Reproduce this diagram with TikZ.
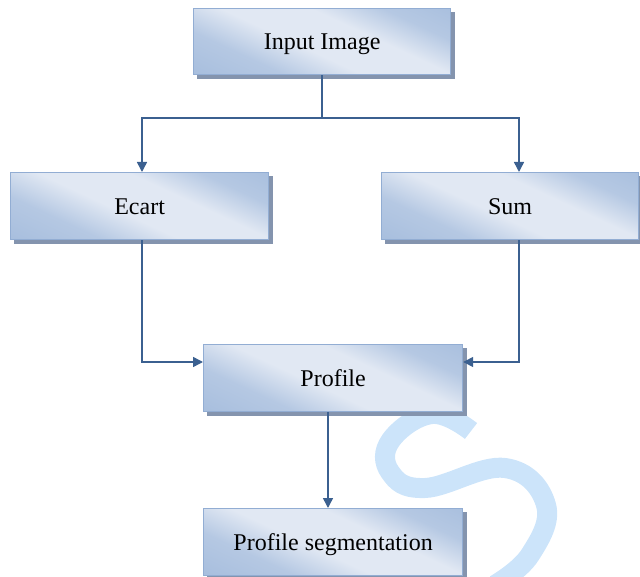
\documentclass[tikz,border=0pt]{standalone}
\usepackage{fontspec}
\setmainfont{Liberation Serif}
\usetikzlibrary{arrows.meta,backgrounds}
\definecolor{boxdk}{HTML}{98B3D8}
\definecolor{boxlt}{HTML}{E1E8F3}
\definecolor{boxedge}{HTML}{92ADD3}
\definecolor{shadowc}{HTML}{8494AE}
\definecolor{linec}{HTML}{3B6090}
\definecolor{wmark}{HTML}{CCE4FA}
\pgfdeclarehorizontalshading{boxshade}{100bp}{color(0bp)=(boxdk); color(32bp)=(boxdk!60!boxlt); color(45bp)=(boxlt); color(60bp)=(boxlt); color(72bp)=(boxdk!60!boxlt); color(100bp)=(boxdk)}
\begin{document}
\begin{tikzpicture}[x=1pt,y=-1pt,
  flowbox/.style={draw=boxedge, line width=1.2pt, shading=boxshade, shading angle=65,
    anchor=north west, inner sep=0pt, text height=16pt, text depth=0pt,
    font=\fontsize{24}{27}\selectfont},
  conn/.style={draw=linec, line width=1.5pt},
  arr/.style={conn, -{Triangle[length=10pt,width=10pt]}}]
\useasboundingbox (0,0) rectangle (640,577);
\node[flowbox, minimum width=257pt, minimum height=66pt] (inp) at (193,8) {Input Image};
\node[flowbox, minimum width=258pt, minimum height=67pt] (ecart) at (10,172) {Ecart};
\node[flowbox, minimum width=257pt, minimum height=67pt] (sum) at (381,172) {Sum};
\node[flowbox, minimum width=259pt, minimum height=67pt] (prof) at (203,344) {Profile};
\node[flowbox, minimum width=259pt, minimum height=67pt] (seg) at (203,508) {Profile segmentation};
\begin{scope}[on background layer]
  % watermark
  \draw[wmark, line width=20pt] plot[smooth, tension=0.7] coordinates {(471,431) (432,414) (391,440) (390,472) (425,488) (505,468) (546,505) (530,555) (495,585)};
  \foreach \n in {inp,ecart,sum,prof,seg}
    \fill[shadowc] ([shift={(4,4)}]\n.north west) rectangle ([shift={(4,4)}]\n.south east);
\end{scope}
\coordinate (split) at (322,118);
\draw[conn] (inp.south -| split) -- (split);
\draw[arr] (split) -| (ecart.north -| 142,0);
\draw[arr] (split) -| (sum.north -| 519,0);
\draw[arr] (ecart.south -| 142,0) |- (prof.west |- 0,362);
\draw[arr] (sum.south -| 519,0) |- (prof.east |- 0,362);
\draw[arr] (prof.south -| 328,0) -- (seg.north -| 328,0);
\end{tikzpicture}
\end{document}
